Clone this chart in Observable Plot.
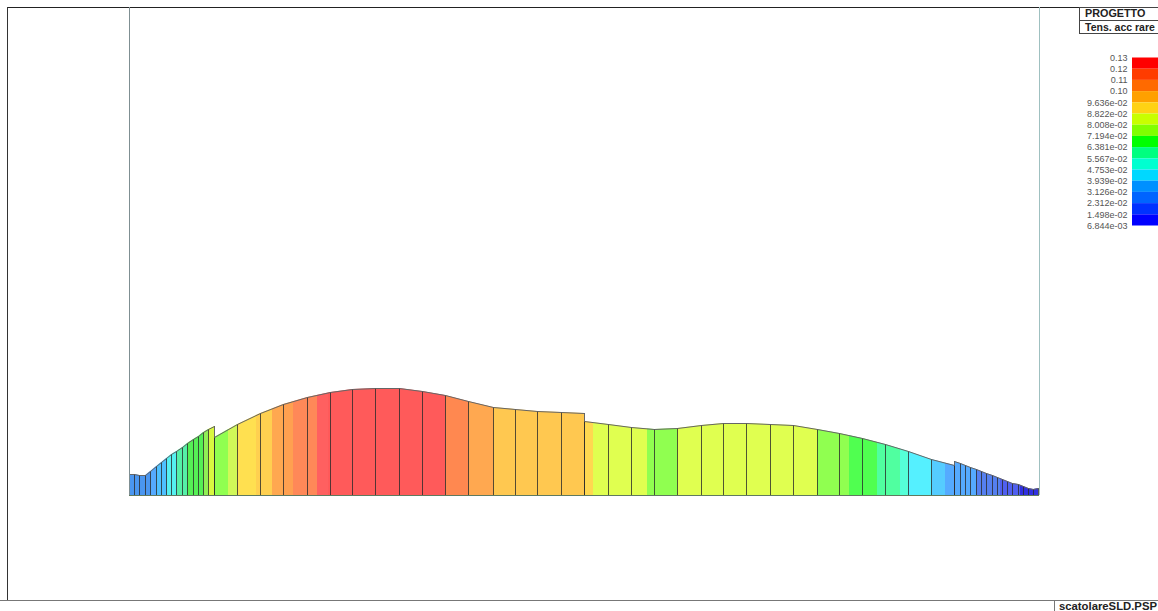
<!DOCTYPE html>
<html>
<head>
<meta charset="utf-8">
<script src="https://cdn.jsdelivr.net/npm/d3@7"></script>
<script src="https://cdn.jsdelivr.net/npm/@observablehq/plot@0.6"></script>
<style>
html,body{margin:0;padding:0;background:#fff;overflow:hidden}
#page{position:relative;width:1158px;height:611px;overflow:hidden;font-family:"Liberation Sans",Arial,sans-serif}
#page svg{position:absolute;left:0;top:0;background:transparent}
.frame{position:absolute;box-sizing:border-box}
.tag{position:absolute;font-weight:bold;color:#222;white-space:nowrap;line-height:13px}
</style>
</head>
<body>
<div id="page"></div>
<script>
// Beam stations and the plotted profile height at each one
const stations = [129,134,139,145,150,156,161,166,171,176,182,187,193,198,203,208,214,214,237,260,283,307,330,352,375,399,422,445,468,493,515,537,561,584,584,608,631,654,677,701,723,746,770,793,817,839,862,885,908,931,954,954,960,965,970,976,981,986,992,997,1002,1007,1012,1018,1023,1028,1033,1038];
const heights  = [21,21,20,20,24,29,33,37,41,44,48,52,56,59,63,66,69,58,71,82,91,98,103,106,107,107,104,100,94,88,86,84,83,82,74,71,68,66,67,70,72,72,71,70,66,62,57,51,44,36,30,34,32,30,28,26,24,22,20,18,16,14,12,11,9,7,6,7];

// Colour bands along the beam
const bandEdges = [129,150,156,167,177,187,203,208,214,228,237,256,272,283,293,317,328,445,468,493,584,593,647,677,817,849,877,900,908,932,945,976,1000,1020,1038];
const bandFills = ["#4a96f0","#55aaff","#4ec0ff","#55f0f0","#55f0a8","#55f055","#90f055","#d8f840","#90ff50","#d0f858","#ffe050","#ffd050","#ffa850","#ffa050","#ff8858","#ff6060","#ff5a5a","#ff8850","#ffa850","#ffc850","#ffd850","#e0ff50","#90ff50","#e0ff50","#90ff50","#50ff50","#50ffa0","#55ffd8","#55f0ff","#55ccff","#55aaff","#5580f0","#5060f0","#3030e0"];

// Legend
const legendLabels = ["0.13","0.12","0.11","0.10","9.636e-02","8.822e-02","8.008e-02","7.194e-02","6.381e-02","5.567e-02","4.753e-02","3.939e-02","3.126e-02","2.312e-02","1.498e-02","6.844e-03"];
const legendColors = ["#ff0000","#ff3c00","#ff6a00","#ffa000","#ffd214","#c8ff00","#80ff00","#00ff00","#00ff80","#00ffd0","#00d8ff","#0090ff","#0064ff","#0032ff","#0000ff"];

const profile = stations.map((x,i)=>({x,h:heights[i]}));
const bands = bandFills.map((fill,i)=>({x1:bandEdges[i],x2:bandEdges[i+1],fill}));
const topH = 108;

const page = document.getElementById("page");

const chart = Plot.plot({
  width:1158, height:611, margin:0,
  marginLeft:0, marginRight:0, marginTop:0, marginBottom:0,
  x:{domain:[129,1039], range:[129,1039], axis:null},
  y:{domain:[0,107], range:[495,388], axis:null},
  style:{background:"transparent"},
  marks:[
    Plot.rectY(bands,{x1:"x1",x2:"x2",y1:0,y2:topH,fill:d=>d.fill,inset:0}),
    Plot.areaY(profile,{x:"x",y1:"h",y2:topH,fill:"#fff",curve:"linear"}),
    Plot.ruleX(profile,{x:"x",y1:0,y2:"h",stroke:"#2a2a2a",strokeWidth:1,strokeOpacity:0.8}),
    Plot.line(profile,{x:"x",y:"h",stroke:"#666",strokeWidth:1,curve:"linear"}),
    Plot.ruleY([0],{x1:129,x2:1039,stroke:"#5f7a5f",strokeWidth:1})
  ]
});
page.appendChild(chart);

const legend = Plot.plot({
  width:1158, height:611, margin:0,
  marginLeft:0, marginRight:0, marginTop:0, marginBottom:0,
  x:{domain:[0,1158], range:[0,1158], axis:null},
  y:{domain:[0,15], range:[57.5,225.5], axis:null},
  style:{background:"transparent"},
  marks:[
    Plot.rect(legendColors,{x1:1132,x2:1158,y1:(d,i)=>i,y2:(d,i)=>i+1,fill:d=>d}),
    Plot.text(legendLabels,{x:1127,y:(d,i)=>i,text:d=>d,textAnchor:"end",fontSize:9,fontFamily:"Liberation Sans, Arial, sans-serif",fill:"#555"})
  ]
});
page.appendChild(legend);

function box(css){const d=document.createElement("div");d.className="frame";d.style.cssText=css;page.appendChild(d);}
// outer frame
box("left:7px;top:7px;width:1151px;height:1px;background:#222");
box("left:7px;top:7px;width:1px;height:593px;background:#333");
box("left:0;top:600px;width:1158px;height:1px;background:#777");
// vertical limits of the beam
box("left:129px;top:7px;width:1px;height:488px;background:#7f8f92");
box("left:1039px;top:7px;width:1px;height:488px;background:#9fc0c0");
// title box
box("left:1079px;top:7px;width:79px;height:27px;border:1px solid #444;border-right:none");
box("left:1079px;top:20px;width:79px;height:1px;background:#444");
// file tag
box("left:1054px;top:600px;width:1px;height:11px;background:#777");
function tag(txt,css){const d=document.createElement("div");d.className="tag";d.textContent=txt;d.style.cssText=css;page.appendChild(d);}
tag("PROGETTO","left:1085px;top:7px;font-size:10.8px");
tag("Tens. acc rare","left:1085px;top:20.5px;font-size:10.5px");
tag("scatolareSLD.PSP","left:1059px;top:600px;font-size:11.3px");
</script>
</body>
</html>
